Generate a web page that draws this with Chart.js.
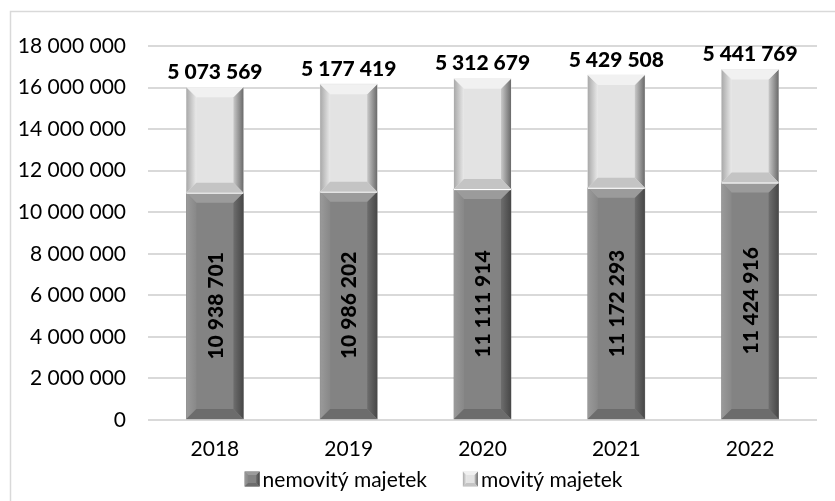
<!DOCTYPE html>
<html><head><meta charset="utf-8">
<script src="https://cdn.jsdelivr.net/npm/chart.js@4/dist/chart.umd.min.js"></script>
<style>html,body{margin:0;padding:0;background:#fff;}canvas{display:block;}</style>
</head><body>
<canvas id="c" width="835" height="501"></canvas>
<script>
const categories = ['2018', '2019', '2020', '2021', '2022'];
const nemovityMajetek = [10938701, 10986202, 11111914, 11172293, 11424916];
const movityMajetek = [5073569, 5177419, 5312679, 5429508, 5441769];
const seriesNames = ['nemovitý majetek', 'movitý majetek'];
const yMin = 0, yMax = 18000000, yStep = 2000000;

const FONT = 'Lato, "Open Sans", sans-serif';
const fmt = v => String(v).replace(/\B(?=(\d{3})+(?!\d))/g, ' ');

const styles = [
  {face:'#838383', top:'#9b9b9b', bottom:'#6c6c6c', leftA:'#9a9a9a', leftB:'#888888', rightA:'#6e6e6e', rightB:'#474747'},
  {face:'#e3e3e3', top:'#f1f1f1', bottom:'#c4c4c4', leftA:'#a9a9a9', leftB:'#e9e9e9', rightA:'#c9c9c9', rightB:'#6a6a6a'}
];

function bevel(ctx, left, top, right, bottom, b, s) {
  b = Math.min(b, (bottom - top) / 2, (right - left) / 2);
  let g = ctx.createLinearGradient(left, 0, left + b, 0);
  g.addColorStop(0, s.leftA); g.addColorStop(1, s.leftB);
  ctx.fillStyle = g;
  ctx.beginPath(); ctx.moveTo(left, top); ctx.lineTo(left + b, top + b); ctx.lineTo(left + b, bottom - b); ctx.lineTo(left, bottom); ctx.closePath(); ctx.fill();
  g = ctx.createLinearGradient(right - b, 0, right, 0);
  g.addColorStop(0, s.rightA); g.addColorStop(1, s.rightB);
  ctx.fillStyle = g;
  ctx.beginPath(); ctx.moveTo(right, top); ctx.lineTo(right - b, top + b); ctx.lineTo(right - b, bottom - b); ctx.lineTo(right, bottom); ctx.closePath(); ctx.fill();
  ctx.fillStyle = s.top;
  ctx.beginPath(); ctx.moveTo(left, top); ctx.lineTo(right, top); ctx.lineTo(right - b, top + b); ctx.lineTo(left + b, top + b); ctx.closePath(); ctx.fill();
  ctx.fillStyle = s.bottom;
  ctx.beginPath(); ctx.moveTo(left, bottom); ctx.lineTo(right, bottom); ctx.lineTo(right - b, bottom - b); ctx.lineTo(left + b, bottom - b); ctx.closePath(); ctx.fill();
}

const decor = {
  id: 'decor',
  beforeDraw(chart) {
    const ctx = chart.ctx;
    ctx.save();
    ctx.strokeStyle = '#d9d9d9'; ctx.lineWidth = 1.5;
    ctx.strokeRect(10.5, 11.5, 1000, 1000);
    ctx.restore();
  },
  afterDatasetsDraw(chart) {
    const ctx = chart.ctx;
    ctx.save();
    chart.data.datasets.forEach((ds, di) => {
      chart.getDatasetMeta(di).data.forEach(el => {
        const left = el.x - el.width / 2, right = el.x + el.width / 2;
        const top = Math.min(el.y, el.base), bottom = Math.max(el.y, el.base);
        bevel(ctx, left, top, right, bottom, 10, styles[di]);
        if (di === 0) {
          ctx.fillStyle = '#ffffff';
          ctx.fillRect(left, top - 1, right - left, 2);
        }
      });
    });
    ctx.fillStyle = '#000';
    ctx.font = '900 21px ' + FONT;
    ctx.textAlign = 'center'; ctx.textBaseline = 'middle';
    chart.getDatasetMeta(1).data.forEach((el, i) => {
      ctx.fillText(fmt(chart.data.datasets[1].data[i]), el.x, Math.min(el.y, el.base) - 15);
    });
    chart.getDatasetMeta(0).data.forEach((el, i) => {
      ctx.save();
      ctx.translate(el.x + 1, (el.y + el.base) / 2);
      ctx.rotate(-Math.PI / 2);
      ctx.fillText(fmt(chart.data.datasets[0].data[i]), 0, 0);
      ctx.restore();
    });
    ctx.restore();
  },
  afterDraw(chart) {
    const ctx = chart.ctx;
    ctx.save();
    ctx.font = '21px ' + FONT;
    ctx.textBaseline = 'middle'; ctx.textAlign = 'left'; ctx.fillStyle = '#000';
    const cy = 479, box = 15, gapBox = 3, gapItems = 36;
    const widths = seriesNames.map(n => box + gapBox + ctx.measureText(n).width);
    const total = widths[0] + gapItems + widths[1];
    let x = 433.5 - total / 2;
    seriesNames.forEach((n, i) => {
      ctx.fillStyle = styles[i].face;
      ctx.fillRect(x, cy - box / 2, box, box);
      bevel(ctx, x, cy - box / 2, x + box, cy + box / 2, 3.5, styles[i]);
      ctx.fillStyle = '#000';
      ctx.fillText(n, x + box + gapBox, cy + 1);
      x += widths[i] + gapItems;
    });
    ctx.restore();
  }
};

const chart = new Chart(document.getElementById('c'), {
  type: 'bar',
  data: {
    labels: categories,
    datasets: [
      {label: seriesNames[0], data: nemovityMajetek, backgroundColor: styles[0].face, borderWidth: 0, barThickness: 57},
      {label: seriesNames[1], data: movityMajetek, backgroundColor: styles[1].face, borderWidth: 0, barThickness: 57}
    ]
  },
  options: {
    responsive: false,
    animation: false,
    devicePixelRatio: 1,
    layout: {padding: {left: 10, right: 18, top: 46, bottom: 0}},
    plugins: {legend: {display: false}, tooltip: {enabled: false}},
    scales: {
      x: {
        stacked: true,
        grid: {display: false, drawTicks: false},
        border: {display: false},
        ticks: {color: '#000', font: {family: FONT, size: 21}, padding: 17, maxRotation: 0},
        afterFit(s) { s.height = 81; }
      },
      y: {
        stacked: true,
        min: yMin, max: yMax,
        ticks: {stepSize: yStep, color: '#000', font: {family: FONT, size: 21}, padding: 22, callback: v => fmt(v)},
        grid: {color: '#d9d9d9', lineWidth: 2, drawTicks: false},
        border: {display: false},
        afterFit(s) { s.width = 138; }
      }
    }
  },
  plugins: [decor]
});
</script>
</body></html>
